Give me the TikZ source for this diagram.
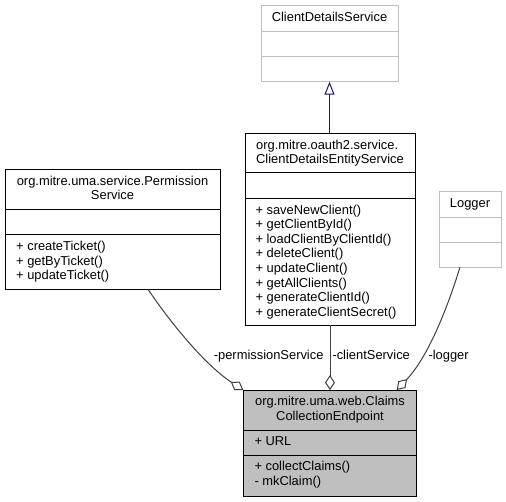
\documentclass[tikz,border=0pt]{standalone}
\usepackage{fontspec}
\setmainfont{Liberation Sans}
\usetikzlibrary{arrows.meta,calc}
\definecolor{edgegrey}{HTML}{404040}
\definecolor{midblue}{HTML}{191970}
\definecolor{lightborder}{HTML}{BFBFBF}
\definecolor{mainfill}{HTML}{BFBFBF}
\tikzset{
  cls/.style={draw=black, fill=white, line width=1pt, inner sep=0pt, outer sep=0pt, anchor=north west},
  undoc/.style={cls, draw=lightborder},
  maincls/.style={cls, fill=mainfill},
  txt/.style={inner sep=0pt, outer sep=0pt, text height=9.4pt, text depth=2.7pt, font=\fontsize{12.9}{14.6}\selectfont},
  lbl/.style={txt},
  usage/.style={draw=edgegrey, line width=1pt, -{Diamond[open,length=15pt,width=10pt,line width=1pt]}},
  inherit/.style={draw=midblue, line width=1pt, -{Triangle[open,length=13pt,width=10pt,line width=1pt]}}
}
\begin{document}
\begin{tikzpicture}[x=1pt,y=-1pt]
\useasboundingbox (0,0) rectangle (506,501);

% ClientDetailsService
\node[undoc, minimum width=137pt, minimum height=76.7pt] (cds) at (261,5) {};
\draw[lightborder, line width=1pt] ([yshift=-26.7pt]cds.north west) -- ([yshift=-26.7pt]cds.north east);
\draw[lightborder, line width=1pt] ([yshift=-51.7pt]cds.north west) -- ([yshift=-51.7pt]cds.north east);
\node[txt] (cdst) at (329.5,18.3) {ClientDetailsService};

% Logger
\node[undoc, minimum width=62pt, minimum height=76pt] (logger) at (439,191) {};
\draw[lightborder, line width=1pt] ([yshift=-26.3pt]logger.north west) -- ([yshift=-26.3pt]logger.north east);
\draw[lightborder, line width=1pt] ([yshift=-51.7pt]logger.north west) -- ([yshift=-51.7pt]logger.north east);
\node[txt] (loggert) at (470,204) {Logger};

% PermissionService
\node[cls, minimum width=215pt, minimum height=120pt] (perm) at (5,169.3) {};
\draw[line width=1pt] ([yshift=-40pt]perm.north west) -- ([yshift=-40pt]perm.north east);
\draw[line width=1pt] ([yshift=-65.4pt]perm.north west) -- ([yshift=-65.4pt]perm.north east);
\node[txt] (permt1) at (112.5,181.8) {org.mitre.uma.service.Permission};
\node[txt] (permt2) at (112.5,196.4) {Service};
\node[txt, anchor=west] (permm1) at (16.2,247.2) {+ createTicket()};
\node[txt, anchor=west] (permm2) at (16.2,261.8) {+ getByTicket()};
\node[txt, anchor=west] (permm3) at (16.2,276.4) {+ updateTicket()};

% ClientDetailsEntityService
\node[cls, minimum width=170pt, minimum height=191.7pt] (cdes) at (245,133.3) {};
\draw[line width=1pt] ([yshift=-39.4pt]cdes.north west) -- ([yshift=-39.4pt]cdes.north east);
\draw[line width=1pt] ([yshift=-65pt]cdes.north west) -- ([yshift=-65pt]cdes.north east);
\node[txt] (cdest2) at (330,160.4) {ClientDetailsEntityService};
\node[txt, anchor=west] (cdest1) at (cdest2.west |- 0,145.8) {org.mitre.oauth2.service.};
\node[txt, anchor=west] (cdesm1) at (255.5,210.8) {+ saveNewClient()};
\node[txt, anchor=west] (cdesm2) at (255.5,225.4) {+ getClientById()};
\node[txt, anchor=west] (cdesm3) at (255.5,240.0) {+ loadClientByClientId()};
\node[txt, anchor=west] (cdesm4) at (255.5,254.6) {+ deleteClient()};
\node[txt, anchor=west] (cdesm5) at (255.5,269.2) {+ updateClient()};
\node[txt, anchor=west] (cdesm6) at (255.5,283.8) {+ getAllClients()};
\node[txt, anchor=west] (cdesm7) at (255.5,298.4) {+ generateClientId()};
\node[txt, anchor=west] (cdesm8) at (255.5,313.0) {+ generateClientSecret()};

% ClaimsCollectionEndpoint
\node[maincls, minimum width=173.4pt, minimum height=106pt] (main) at (243.3,390) {};
\draw[line width=1pt] ([yshift=-40pt]main.north west) -- ([yshift=-40pt]main.north east);
\draw[line width=1pt] ([yshift=-65pt]main.north west) -- ([yshift=-65pt]main.north east);
\node[txt] (maint1) at (330,402.5) {org.mitre.uma.web.Claims};
\node[txt] (maint2) at (330,417.1) {CollectionEndpoint};
\node[txt, anchor=west] (maina1) at (254.5,442.5) {+ URL};
\node[txt, anchor=west] (mainm1) at (254.5,467.5) {+ collectClaims()};
\node[txt, anchor=west] (mainm2) at (254.5,482.1) {- mkClaim()};

% Connectors
\draw[inherit] (cdes.north -| cdst) -- (cds.south -| cdst);
\draw[usage] (cdes.south) -- (cdes.south |- main.north);
\draw[usage] ($(perm.south west)+(143,0)$) .. controls (170,322) and (205,365) .. (main.north west);
\draw[usage] ($(logger.south)+(-10,0)$) .. controls (450,300) and (430,355) .. ($(main.north east)+(-20,0)$);

% Labels
\node[lbl, anchor=east] (lperm) at (323.5,356) {-permissionService};
\node[lbl, anchor=west] (lclient) at (332.5,356) {-clientService};
\node[lbl, anchor=west] (llogger) at (428.5,356) {-logger};
\end{tikzpicture}
\end{document}
